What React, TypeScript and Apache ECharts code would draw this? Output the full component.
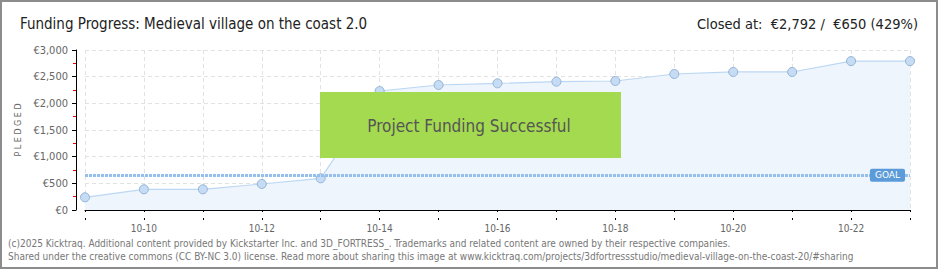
import React, { useEffect, useRef } from "react";
import * as echarts from "echarts";

const dates = ["10-09", "10-10", "10-11", "10-12", "10-13", "10-14", "10-15", "10-16", "10-17", "10-18", "10-19", "10-20", "10-21", "10-22", "10-23"];
const pledged = [238, 388, 388, 488, 594, 2231, 2344, 2375, 2406, 2419, 2550, 2588, 2588, 2792, 2792];
const goal = 650;
const yTicks = [0, 500, 1000, 1500, 2000, 2500, 3000];

const titleText = "Funding Progress: Medieval village on the coast 2.0";
const closedText = "Closed at:  €2,792 /  €650 (429%)";
const successText = "Project Funding Successful";
const footer1 = "(c)2025 Kicktraq. Additional content provided by Kickstarter Inc. and 3D_FORTRESS_. Trademarks and related content are owned by their respective companies.";
const footer2 = "Shared under the creative commons (CC BY-NC 3.0) license. Read more about sharing this image at www.kicktraq.com/projects/3dfortressstudio/medieval-village-on-the-coast-20/#sharing";

const FONT = "'DejaVu Sans Condensed', 'Roboto', sans-serif";

export default function App() {
  const ref = useRef<HTMLDivElement>(null);
  useEffect(() => {
    if (!ref.current) return;
    const chart = echarts.init(ref.current, undefined, { renderer: "svg" });
    const fmt = (v: number) => "€" + v.toLocaleString("en-US");
    chart.setOption({
      animation: false,
      backgroundColor: "#fff",
      textStyle: { fontFamily: FONT },
      grid: { left: 85, right: 30, top: 50, bottom: 60 },
      xAxis: [
        {
          type: "category",
          data: dates,
          boundaryGap: false,
          offset: 10,
          axisLine: { show: true, lineStyle: { color: "#000", width: 1 } },
          axisTick: { show: true, interval: 0, length: 2, lineStyle: { color: "#000" } },
          axisLabel: {
            interval: (i: number) => i % 2 === 1,
            color: "#666",
            fontSize: 10,
            fontFamily: FONT,
            margin: 3,
          },
          splitLine: { show: true, interval: 0, lineStyle: { color: "#e2e2e2", type: [4, 3] } },
        },
        {
          type: "category",
          data: dates,
          boundaryGap: false,
          position: "bottom",
          offset: 10,
          axisLine: { show: false },
          axisTick: { show: true, inside: true, interval: 0, length: 2, lineStyle: { color: "#000" } },
          axisLabel: { show: false },
          splitLine: { show: false },
        },
      ],
      yAxis: {
        type: "value",
        min: yTicks[0],
        max: yTicks[yTicks.length - 1],
        interval: 500,
        offset: 9,
        name: "P L E D G E D",
        nameLocation: "middle",
        nameGap: 49,
        nameRotate: 90,
        nameTextStyle: { color: "#666", fontSize: 8, fontFamily: "'DejaVu Sans', sans-serif" },
        axisLine: { show: true, lineStyle: { color: "#000", width: 1 } },
        axisTick: { show: true, length: 4, lineStyle: { color: "#000" } },
        minorTick: { show: true, splitNumber: 2, length: 3, lineStyle: { color: "#e00" } },
        minorSplitLine: { show: false },
        axisLabel: { color: "#666", fontSize: 11, fontFamily: FONT, margin: 8, formatter: fmt },
        splitLine: { show: true, lineStyle: { color: "#e2e2e2", type: [4, 3] } },
      },
      series: [
        {
          type: "line",
          data: pledged,
          symbol: "circle",
          symbolSize: 9,
          itemStyle: { color: "#c6dcf5", borderColor: "#93b3d5", borderWidth: 1 },
          lineStyle: { color: "#bcd7f3", width: 1.2 },
          areaStyle: { color: "#eef5fd", opacity: 1 },
          z: 3,
          markLine: {
            silent: true,
            symbol: "none",
            data: [{ yAxis: goal }],
            lineStyle: { color: "#95bfec", width: 3, type: [3, 1] },
            label: {
              show: true,
              position: "insideEnd",
              formatter: "GOAL",
              backgroundColor: "#5b9bd9",
              color: "#fff",
              fontSize: 9,
              fontFamily: "'DejaVu Sans', sans-serif",
              padding: [2, 5, 2, 5],
              borderRadius: 2,
              distance: 5,
            },
          },
        },
      ],
      graphic: [
        {
          type: "rect",
          z: 100,
          shape: { x: 1, y: 1, width: 936, height: 267 },
          style: { fill: "none", stroke: "#8c8c8c", lineWidth: 2 },
        },
        {
          type: "text",
          z: 100,
          x: 20,
          y: 24,
          style: { text: titleText, font: `15px ${FONT}`, fill: "#222", verticalAlign: "middle" },
        },
        {
          type: "text",
          z: 100,
          x: 918,
          y: 24,
          style: { text: closedText, font: `14.5px ${FONT}`, fill: "#222", align: "right", verticalAlign: "middle" },
        },
        {
          type: "rect",
          z: 100,
          shape: { x: 320, y: 92, width: 301, height: 66 },
          style: { fill: "#a4da50" },
        },
        {
          type: "text",
          z: 101,
          x: 469,
          y: 126,
          style: {
            text: successText,
            font: `17px ${FONT}`,
            fill: "#555",
            align: "center",
            verticalAlign: "middle",
            textShadowColor: "#fff",
            textShadowOffsetX: 1,
            textShadowOffsetY: 1,
            textShadowBlur: 0,
          },
        },
        {
          type: "text",
          z: 100,
          x: 8,
          y: 243,
          style: { text: footer1, font: `10px ${FONT}`, fill: "#777", verticalAlign: "middle" },
        },
        {
          type: "text",
          z: 100,
          x: 8,
          y: 256,
          style: { text: footer2, font: `10px ${FONT}`, fill: "#777", verticalAlign: "middle" },
        },
      ],
    });
    return () => chart.dispose();
  }, []);
  return <div ref={ref} style={{ position: "fixed", left: 0, top: 0, width: 940, height: 270 }} />;
}
